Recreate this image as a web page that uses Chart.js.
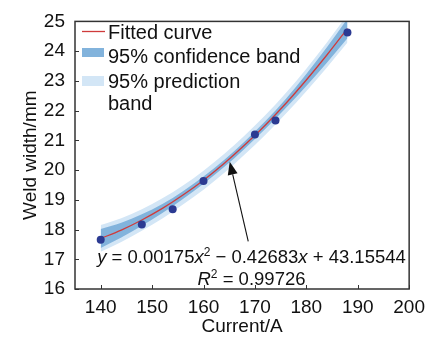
<!DOCTYPE html>
<html><head><meta charset="utf-8">
<script src="https://cdn.jsdelivr.net/npm/chart.js@4"></script>
<style>html,body{margin:0;padding:0;background:#fff}#w{width:432px;height:342px;position:relative}</style>
</head><body><div id="w"><canvas id="c"></canvas></div>
<script>
const FONT = 'Liberation Sans, Arial, sans-serif';
// measured points
const currentA = [140, 148, 154, 160, 170, 174, 188];
const weldWidth = [17.66, 18.17, 18.68, 19.63, 21.2, 21.67, 24.63];
// fitted curve and bands
const curveX = [140, 144, 148, 152, 156, 160, 164, 168, 172, 176, 180, 184, 188];
const curveY = [17.70, 17.98, 18.32, 18.71, 19.16, 19.66, 20.22, 20.84, 21.51, 22.24, 23.03, 23.87, 24.76];
const confUpper = [18.02, 18.23, 18.51, 18.86, 19.29, 19.78, 20.34, 20.96, 21.64, 22.39, 23.23, 24.13, 25.09];
const confLower = [17.38, 17.73, 18.13, 18.56, 19.03, 19.54, 20.10, 20.72, 21.38, 22.09, 22.83, 23.61, 24.43];
const predUpper = [18.15, 18.38, 18.68, 19.05, 19.48, 19.98, 20.54, 21.16, 21.84, 22.59, 23.41, 24.29, 25.23];
const predLower = [17.25, 17.58, 17.96, 18.37, 18.84, 19.34, 19.90, 20.52, 21.18, 21.89, 22.65, 23.45, 24.29];
const xTicks = [140, 150, 160, 170, 180, 190, 200];
const yTicks = [16, 17, 18, 19, 20, 21, 22, 23, 24, 25];
const legendLabels = ['Fitted curve', '95% confidence band', '95% prediction', 'band'];
const arrowFrom = [168.7, 17.6];
const arrowTo = [165.1, 20.28];

const pts = (xs, ys) => xs.map((x, i) => ({x, y: ys[i]}));
const RED = '#cf3b3b', DARK = '#82b3dc', LIGHT = '#d3e6f6', PT = '#2b3a92';

const clipBands = {
  id: 'clipBands',
  beforeDatasetsDraw(chart) { const a = chart.chartArea, c = chart.ctx; c.save(); c.beginPath(); c.rect(a.left, a.top, a.right - a.left, a.bottom - a.top); c.clip(); },
  afterDatasetsDraw(chart) { chart.ctx.restore(); }
};

const deco = {
  id: 'deco',
  afterDraw(chart) {
    const {ctx, chartArea: a, scales: {x, y}} = chart;
    ctx.save();
    // inward ticks
    ctx.strokeStyle = '#333'; ctx.lineWidth = 1;
    xTicks.forEach(v => { const px = Math.round(x.getPixelForValue(v)) + 0.5; ctx.beginPath(); ctx.moveTo(px, a.bottom); ctx.lineTo(px, a.bottom - 4); ctx.stroke(); });
    yTicks.forEach(v => { const py = Math.round(y.getPixelForValue(v)) + 0.5; ctx.beginPath(); ctx.moveTo(a.left, py); ctx.lineTo(a.left + 4, py); ctx.stroke(); });
    // frame
    ctx.lineWidth = 1.5; ctx.strokeStyle = '#333';
    ctx.strokeRect(a.left, a.top, a.right - a.left, a.bottom - a.top);
    // legend
    ctx.fillStyle = '#111'; ctx.font = '20px ' + FONT; ctx.textBaseline = 'alphabetic'; ctx.textAlign = 'left';
    ctx.strokeStyle = RED; ctx.lineWidth = 1.3;
    ctx.beginPath(); ctx.moveTo(82, 31.5); ctx.lineTo(105, 31.5); ctx.stroke();
    ctx.fillStyle = DARK; ctx.fillRect(82, 48, 22, 9);
    ctx.fillStyle = LIGHT; ctx.fillRect(82, 76, 22, 10);
    ctx.fillStyle = '#111';
    ctx.fillText(legendLabels[0], 108, 38.5);
    ctx.fillText(legendLabels[1], 108, 63);
    ctx.fillText(legendLabels[2], 108, 88);
    ctx.fillText(legendLabels[3], 108, 110);
    // arrow
    const x1 = x.getPixelForValue(arrowFrom[0]), y1 = y.getPixelForValue(arrowFrom[1]);
    const x2 = x.getPixelForValue(arrowTo[0]), y2 = y.getPixelForValue(arrowTo[1]);
    const ang = Math.atan2(y2 - y1, x2 - x1), L = 13, W = 5;
    const bx = x2 - L * Math.cos(ang), by = y2 - L * Math.sin(ang);
    ctx.strokeStyle = '#111'; ctx.lineWidth = 1.1;
    ctx.beginPath(); ctx.moveTo(x1, y1); ctx.lineTo(bx, by); ctx.stroke();
    ctx.fillStyle = '#111';
    ctx.beginPath(); ctx.moveTo(x2, y2);
    ctx.lineTo(bx + W * Math.sin(ang), by - W * Math.cos(ang));
    ctx.lineTo(bx - W * Math.sin(ang), by + W * Math.cos(ang));
    ctx.closePath(); ctx.fill();
    // equation
    const runs1 = [['y', 1, 0], [' = 0.00175', 0, 0], ['x', 1, 0], ['2', 0, 1], [' \u2212 0.42683', 0, 0], ['x', 1, 0], [' + 43.15544', 0, 0]];
    const runs2 = [['R', 1, 0], ['2', 0, 1], [' = 0.99726', 0, 0]];
    const drawRuns = (runs, cx, base) => {
      const f = r => (r[1] ? 'italic ' : '') + (r[2] ? '12px ' : '18.5px ') + FONT;
      let w = 0; runs.forEach(r => { ctx.font = f(r); w += ctx.measureText(r[0]).width; });
      let px = cx - w / 2;
      runs.forEach(r => { ctx.font = f(r); ctx.fillText(r[0], px, base - (r[2] ? 7 : 0)); px += ctx.measureText(r[0]).width; });
    };
    ctx.fillStyle = '#111';
    drawRuns(runs1, 251.5, 263);
    drawRuns(runs2, 251.5, 285);
    ctx.restore();
  }
};

new Chart(document.getElementById('c'), {
  type: 'scatter',
  data: {
    datasets: [
      {data: pts(curveX, predUpper), showLine: true, borderWidth: 0, pointRadius: 0, backgroundColor: LIGHT, fill: '+1', order: 4, clip: 0, cubicInterpolationMode: 'monotone'},
      {data: pts(curveX, predLower), showLine: true, borderWidth: 0, pointRadius: 0, fill: false, order: 4, clip: 0, cubicInterpolationMode: 'monotone'},
      {data: pts(curveX, confUpper), showLine: true, borderWidth: 0, pointRadius: 0, backgroundColor: DARK, fill: '+1', order: 3, clip: 0, cubicInterpolationMode: 'monotone'},
      {data: pts(curveX, confLower), showLine: true, borderWidth: 0, pointRadius: 0, fill: false, order: 3, clip: 0, cubicInterpolationMode: 'monotone'},
      {data: pts(curveX, curveY), showLine: true, borderColor: RED, borderWidth: 1.3, pointRadius: 0, fill: false, order: 2, cubicInterpolationMode: 'monotone'},
      {data: pts(currentA, weldWidth), showLine: false, pointRadius: 4, backgroundColor: PT, borderColor: PT, borderWidth: 0, order: 1}
    ]
  },
  options: {
    responsive: true, maintainAspectRatio: false, animation: false,
    layout: {padding: {left: 0, top: 17, right: 20, bottom: 0}},
    plugins: {legend: {display: false}, tooltip: {enabled: false}},
    scales: {
      x: {
        type: 'linear', min: 135, max: 200,
        afterBuildTicks: s => { s.ticks = xTicks.map(v => ({value: v})); },
        afterFit: s => { s.height = 53; },
        grid: {display: false, drawTicks: false},
        border: {display: false},
        ticks: {color: '#111', font: {family: FONT, size: 19}, padding: 7, maxRotation: 0},
        title: {display: true, text: 'Current/A', color: '#111', font: {family: FONT, size: 19}, padding: {top: 0, bottom: 4}}
      },
      y: {
        type: 'linear', min: 16, max: 25,
        afterBuildTicks: s => { s.ticks = yTicks.map(v => ({value: v})); },
        afterFit: s => { s.width = 75; },
        grid: {display: false, drawTicks: false},
        border: {display: false},
        ticks: {color: '#111', font: {family: FONT, size: 19}, padding: 10},
        title: {display: true, text: 'Weld width/mm', color: '#111', font: {family: FONT, size: 19}, padding: {top: 19, bottom: 0}}
      }
    }
  },
  plugins: [clipBands, deco]
});
</script></body></html>
